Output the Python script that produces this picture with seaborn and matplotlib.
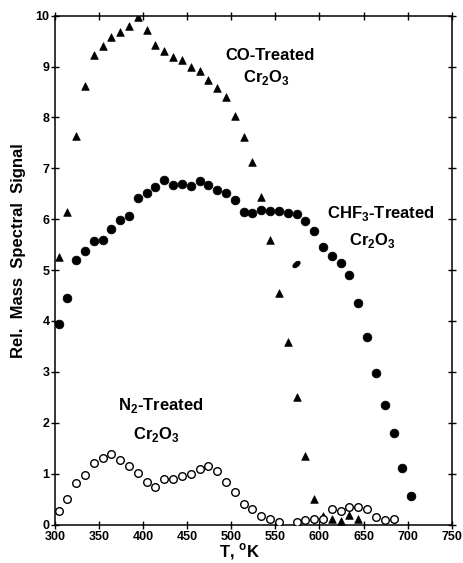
import matplotlib
matplotlib.use("Agg")
import matplotlib.pyplot as plt
from matplotlib.markers import MarkerStyle
from matplotlib.transforms import Affine2D
import seaborn as sns
import pandas as pd

# Desorption temperature (K) and relative mass spectral signal
co_T = [304, 314, 324, 334, 344, 354, 364, 374, 384, 394, 404, 414, 424, 434,
        444, 454, 464, 474, 484, 494, 504, 514, 524, 534, 544, 554, 564, 574,
        584, 594, 604, 614, 624, 634, 644]
co_signal = [5.25, 6.15, 7.64, 8.62, 9.23, 9.41, 9.59, 9.67, 9.80, 9.98, 9.72,
             9.42, 9.31, 9.18, 9.13, 9.00, 8.92, 8.74, 8.58, 8.41, 8.02, 7.61,
             7.12, 6.43, 5.60, 4.55, 3.58, 2.50, 1.34, 0.51, 0.16, 0.10, 0.07,
             0.19, 0.10]

chf3_T = [304, 314, 324, 334, 344, 354, 364, 374, 384, 394, 404, 414, 424, 434,
          444, 454, 464, 474, 484, 494, 504, 514, 524, 534, 544, 554, 564, 574,
          584, 594, 604, 614, 624, 634, 644, 654, 664, 674, 684, 694, 704]
chf3_signal = [3.94, 4.45, 5.19, 5.38, 5.57, 5.60, 5.80, 5.99, 6.07, 6.42, 6.51,
               6.63, 6.77, 6.68, 6.69, 6.66, 6.76, 6.68, 6.58, 6.52, 6.37, 6.14,
               6.13, 6.18, 6.17, 6.17, 6.12, 6.10, 5.97, 5.76, 5.45, 5.28, 5.13,
               4.91, 4.35, 3.68, 2.97, 2.34, 1.80, 1.11, 0.56]

n2_T = [304, 314, 324, 334, 344, 354, 364, 374, 384, 394, 404, 414, 424, 434,
        444, 454, 464, 474, 484, 494, 504, 514, 524, 534, 544, 554, 574, 584,
        594, 604, 614, 624, 634, 644, 654, 664, 674, 684]
n2_signal = [0.27, 0.51, 0.82, 0.98, 1.20, 1.30, 1.38, 1.26, 1.15, 1.02, 0.83,
             0.74, 0.89, 0.90, 0.95, 0.99, 1.10, 1.15, 1.05, 0.83, 0.63, 0.41,
             0.30, 0.17, 0.11, 0.04, 0.04, 0.09, 0.11, 0.11, 0.30, 0.27, 0.34,
             0.35, 0.30, 0.15, 0.09, 0.11]

stray_T = [573]
stray_signal = [5.12]

x_ticks = [300, 350, 400, 450, 500, 550, 600, 650, 700, 750]
y_ticks = [0, 1, 2, 3, 4, 5, 6, 7, 8, 9, 10]

sns.set_style("ticks")
plt.rcParams["font.family"] = ["Liberation Sans", "DejaVu Sans"]
plt.rcParams["font.weight"] = "bold"
plt.rcParams["text.color"] = "black"
plt.rcParams["axes.labelcolor"] = "black"
plt.rcParams["xtick.color"] = "black"
plt.rcParams["ytick.color"] = "black"
plt.rcParams["mathtext.fontset"] = "custom"
plt.rcParams["mathtext.rm"] = "Liberation Sans:bold"
plt.rcParams["mathtext.bf"] = "Liberation Sans:bold"

co_df = pd.DataFrame({"T": co_T, "signal": co_signal})
chf3_df = pd.DataFrame({"T": chf3_T, "signal": chf3_signal})
n2_df = pd.DataFrame({"T": n2_T, "signal": n2_signal})
stray_df = pd.DataFrame({"T": stray_T, "signal": stray_signal})

W, H = 464, 563
fig = plt.figure(figsize=(W / 100, H / 100), dpi=100)
ax = fig.add_axes([55 / W, 1 - 524.5 / H, (451.7 - 55) / W, (524.5 - 15.7) / H])

sns.scatterplot(data=co_df, x="T", y="signal", ax=ax, marker="^", s=30,
                color="black", edgecolor="black", linewidth=0.5, zorder=3)
sns.scatterplot(data=chf3_df, x="T", y="signal", ax=ax, marker="o", s=40,
                color="black", edgecolor="black", linewidth=0.5, zorder=3)
sns.scatterplot(data=n2_df, x="T", y="signal", ax=ax, marker="o", s=30,
                facecolor="white", edgecolor="black", linewidth=1.0, zorder=3)
ellipse = MarkerStyle("o", transform=Affine2D().scale(1.0, 0.55).rotate_deg(40))
sns.scatterplot(data=stray_df, x="T", y="signal", ax=ax, marker=ellipse, s=40,
                color="black", edgecolor="black", linewidth=0.5, zorder=3)

ax.set_xlim(300, 750)
ax.set_ylim(0, 10)
ax.set_xticks(x_ticks)
ax.set_yticks(y_ticks)
ax.set_xticklabels([str(t) for t in x_ticks])
ax.set_yticklabels([str(t) for t in y_ticks])

for side in ["left", "right", "top", "bottom"]:
    ax.spines[side].set_visible(True)
    ax.spines[side].set_linewidth(1.1)
    ax.spines[side].set_color("black")

ax.tick_params(axis="both", which="major", direction="inout", length=6,
               width=1.0, top=True, right=True, labelsize=9, colors="black")
ax.tick_params(axis="x", pad=1.5)
ax.tick_params(axis="y", pad=1.0)

ax.set_xlabel("")
ax.set_ylabel("")
fig.text(240 / W, 1 - 552 / H, r"T, $^\mathbf{o}$K", fontsize=12,
         fontweight="bold", ha="center", va="center")
fig.text(19 / W, 1 - 251 / H, "Rel.  Mass  Spectral  Signal", fontsize=12,
         fontweight="bold", rotation=90, ha="center", va="center")

label_kw = dict(fontsize=12, fontweight="bold", ha="center", va="center")
ax.text(544, 9.22, "CO-Treated", **label_kw)
ax.text(540, 8.79, r"Cr$_\mathbf{2}$O$_\mathbf{3}$", **label_kw)
ax.text(670, 6.12, "CHF$_\mathbf{3}$-Treated", **label_kw)
ax.text(660, 5.59, r"Cr$_\mathbf{2}$O$_\mathbf{3}$", **label_kw)
ax.text(420, 2.33, "N$_\mathbf{2}$-Treated", **label_kw)
ax.text(415, 1.76, r"Cr$_\mathbf{2}$O$_\mathbf{3}$", **label_kw)

fig.savefig("out.png", dpi=100)
